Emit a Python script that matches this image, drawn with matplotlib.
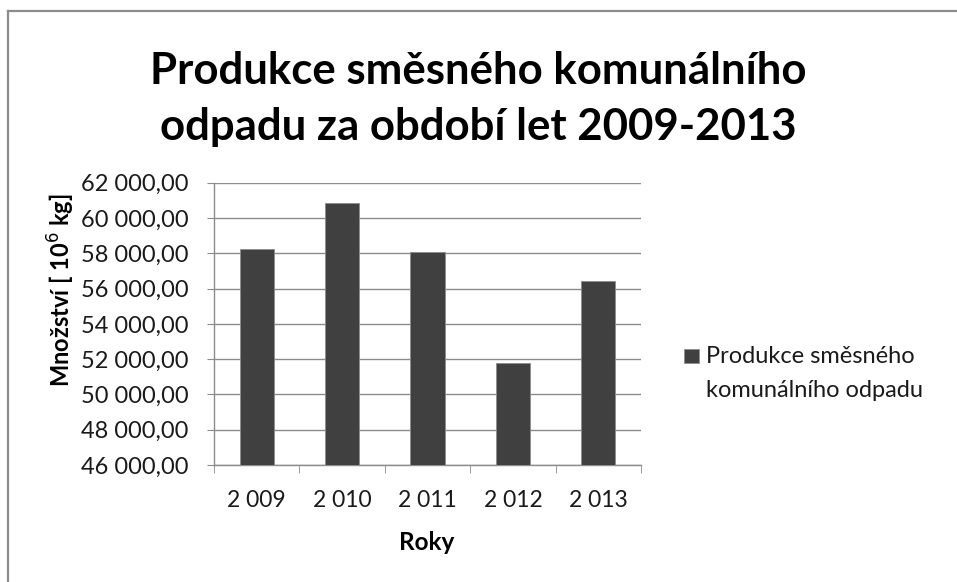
import matplotlib
matplotlib.use("Agg")
import matplotlib.pyplot as plt
from matplotlib.lines import Line2D
from matplotlib.patches import Rectangle
from matplotlib.ticker import FuncFormatter, FixedLocator

years = ["2 009", "2 010", "2 011", "2 012", "2 013"]
values = [58225, 60850, 58090, 51765, 56410]
series_lines = ["Produkce směsného", "komunálního odpadu"]
title = "Produkce směsného komunálního\nodpadu za období let 2009-2013"
ylabel = "Množství [ 10$^{6}$ kg]"
xlabel = "Roky"

plt.rcParams['font.family'] = ['Lato', 'DejaVu Sans']

W, H = 957, 582
bar_color = "#404040"
fig = plt.figure(figsize=(W / 100, H / 100), dpi=100)
ax = fig.add_axes([214 / W, 1 - 465 / H, (641 - 214) / W, (465 - 182.7) / H])

x = list(range(len(years)))
bars = ax.bar(x, values, width=0.4, color=bar_color, edgecolor="#8c8c8c",
              linewidth=0.6, zorder=3)

ax.set_ylim(46000, 62000)
ax.set_xlim(-0.5, len(years) - 0.5)
ax.yaxis.set_major_locator(FixedLocator(list(range(46000, 62001, 2000))))

def fmt(v, pos):
    s = f"{int(v):,}".replace(",", " ")
    return s + ",00"

ax.yaxis.set_major_formatter(FuncFormatter(fmt))
ax.grid(axis="y", color="#8c8c8c", linewidth=1.0, zorder=0)
ax.set_axisbelow(True)

for side in ["top", "right"]:
    ax.spines[side].set_visible(False)
ax.spines["left"].set_color("#8c8c8c")
ax.spines["bottom"].set_color("#8c8c8c")
ax.spines["left"].set_linewidth(1.0)
ax.spines["bottom"].set_linewidth(1.0)

ax.tick_params(axis="y", length=5, color="#8c8c8c", pad=13.5, labelsize=17,
               labelcolor="#1a1a1a")
ax.set_xticks(x)
ax.set_xticklabels(years)
ax.tick_params(axis="x", which="major", length=0, pad=18, labelsize=16.5,
               labelcolor="#1a1a1a")
ax.set_xticks([i - 0.5 for i in range(len(years) + 1)], minor=True)
ax.tick_params(axis="x", which="minor", length=6, color="#8c8c8c")

fig.text(478 / W, 1 - 99 / H, title, ha="center", va="center",
         fontsize=31.5, fontweight="bold", linespacing=1.5, color="#000000")
fig.text(61 / W, 1 - 290 / H, ylabel, rotation=90, ha="center", va="center",
         fontsize=17, fontweight="bold", color="#000000")
fig.text(427 / W, 1 - 543 / H, xlabel, ha="center", va="center",
         fontsize=17.5, fontweight="bold", color="#000000")

# legend (drawn manually to match the Excel layout: key aligned with first line)
fig.add_artist(Rectangle((684 / W, 1 - 363 / H), 15 / W, 14 / H,
                         transform=fig.transFigure, facecolor=bar_color,
                         edgecolor="#8c8c8c", linewidth=0.6))
for i, line in enumerate(series_lines):
    fig.text(706 / W, 1 - (363 + 34 * i) / H, line, ha="left", va="baseline",
             fontsize=17, color="#1a1a1a")

# outer border (top and left visible)
fig.add_artist(Line2D([8 / W, 8 / W], [0, 1 - 11 / H], transform=fig.transFigure,
                      color="#8c8c8c", linewidth=1.6))
fig.add_artist(Line2D([8 / W, 1], [1 - 11 / H, 1 - 11 / H], transform=fig.transFigure,
                      color="#8c8c8c", linewidth=1.6))

fig.savefig("out.png", dpi=100, facecolor="white")
